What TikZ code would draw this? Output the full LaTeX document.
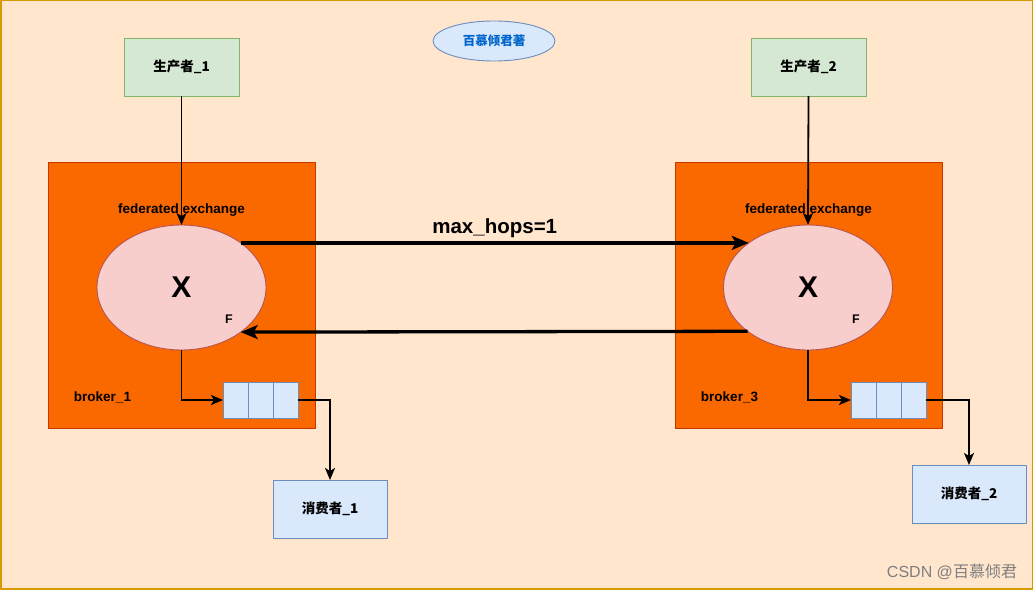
\documentclass[tikz,border=0pt]{standalone}
\usepackage{fontspec}
\setmainfont{Liberation Sans}
\newfontfamily\cjk{Noto Sans CJK SC}
\usetikzlibrary{arrows.meta}
\definecolor{bgfill}{HTML}{FFE6CC}
\definecolor{bgline}{HTML}{D79B00}
\definecolor{orfill}{HTML}{FA6800}
\definecolor{orline}{HTML}{C73500}
\definecolor{grfill}{HTML}{D5E8D4}
\definecolor{grline}{HTML}{82B366}
\definecolor{blfill}{HTML}{DAE8FC}
\definecolor{blline}{HTML}{6C8EBF}
\definecolor{pkfill}{HTML}{F8CECC}
\definecolor{pkline}{HTML}{B85450}
\definecolor{tagtext}{HTML}{0066CC}
\definecolor{wmark}{HTML}{7F7F7F}
\tikzset{
  every node/.style={inner sep=0pt, outer sep=0pt},
  prodbox/.style={draw=grline, fill=grfill, line width=0.9pt, minimum width=115pt, minimum height=58pt, font=\cjk\bfseries\fontsize{13.5}{15}\selectfont},
  consbox/.style={draw=blline, fill=blfill, line width=0.9pt, minimum width=114pt, minimum height=58pt, font=\cjk\bfseries\fontsize{13.5}{15}\selectfont},
  brokerbox/.style={draw=orline, fill=orfill, line width=0.9pt, minimum width=267pt, minimum height=266pt},
  exch/.style={ellipse, draw=pkline, fill=pkfill, line width=0.9pt, minimum width=169pt, minimum height=125pt, font=\bfseries\fontsize{30}{33}\selectfont},
  qcell/.style={draw=blline, fill=blfill, line width=0.9pt, minimum width=25pt, minimum height=36pt},
  lbl/.style={font=\bfseries\fontsize{13.5}{15}\selectfont},
  thinarrow/.style={line width=1.8pt, -{Stealth[length=12pt, width=10pt, inset=3pt]}},
  thickarrow/.style={line width=3.3pt, -{Stealth[length=17pt, width=14pt, inset=4pt]}}
}
\usetikzlibrary{shapes.geometric}
\begin{document}
\begin{tikzpicture}[x=1pt, y=-1pt]
\useasboundingbox (0,0) rectangle (1033,591);
\draw[fill=bgfill, draw=bgline, line width=1.5pt] (0.75,0.75) rectangle (1032.25,589);

% title tag
\node[ellipse, draw=blline, fill=blfill, line width=0.9pt, minimum width=122pt, minimum height=40pt,
      text=tagtext, font=\cjk\bfseries\fontsize{12.5}{14}\selectfont] (tag) at (494,41) {百慕倾君著};

% producers
\node[prodbox] (p1) at (181.5,67) {生产者\_1};
\node[prodbox] (p2) at (808.5,67) {生产者\_2};

% brokers
\node[brokerbox] (b1) at (181.5,295) {};
\node[brokerbox] (b3) at (808.5,295) {};

\node[lbl] (fe1) at (181.5,210) {federated exchange};
\node[lbl] (fe2) at (808.5,210) {federated exchange};
\node[lbl] (bl1) at (102.5,397) {broker\_1};
\node[lbl] (bl3) at (729.5,397) {broker\_3};

% exchanges
\node[exch] (e1) at (181.5,287.5) {X};
\node[exch] (e2) at (808,287.5) {X};
\node[font=\bfseries\fontsize{12.5}{14}\selectfont] (f1) at (229,319) {F};
\node[font=\bfseries\fontsize{12.5}{14}\selectfont] (f2) at (856,319) {F};

% queues
\node[qcell] (q1a) at (235.5,400) {};
\node[qcell] (q1b) at (260.5,400) {};
\node[qcell] (q1c) at (285.5,400) {};
\node[qcell] (q2a) at (863.5,400) {};
\node[qcell] (q2b) at (888.5,400) {};
\node[qcell] (q2c) at (913.5,400) {};

% consumers
\node[consbox] (c1) at (330,509) {消费者\_1};
\node[consbox] (c2) at (969,494) {消费者\_2};

% connectors
\draw[thinarrow] (p1.south) -- (e1.north);
\draw[thinarrow] (p2.south) -- (e2.north);
\draw[thinarrow] (e1.south) |- (q1a.west);
\draw[thinarrow] (e2.south) |- (q2a.west);
\draw[thinarrow] (q1c.east) -| (c1.north);
\draw[thinarrow] (q2c.east) -| (c2.north);

\draw[thickarrow] (e1.37) -- (e2.143) node[midway, above=5pt, font=\bfseries\fontsize{20.5}{22}\selectfont] (mh) {max\_hops=1};
\draw[thickarrow] (e2.216) -- (e1.323);

% watermark
\node[text=wmark, font=\fontsize{16}{18}\selectfont, anchor=east] (wm) at (1017,572) {CSDN @{\cjk 百慕倾君}};
\end{tikzpicture}
\end{document}
